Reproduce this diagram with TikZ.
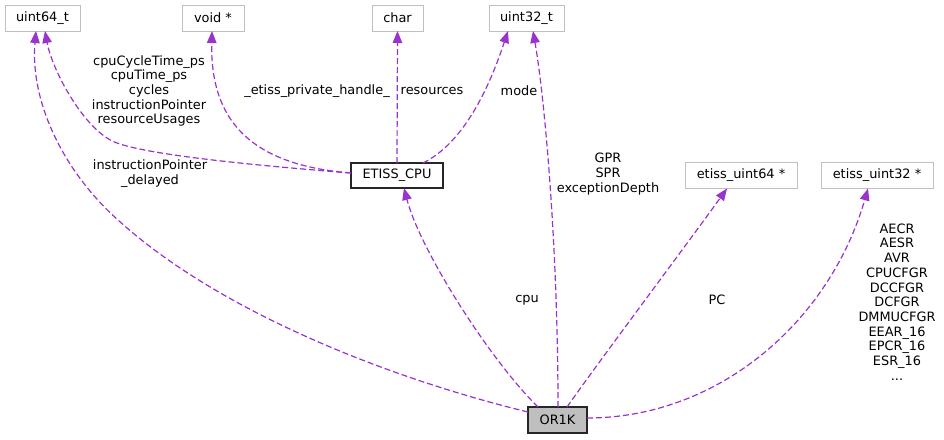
\documentclass[tikz,border=0pt]{standalone}
\usepackage{fontspec}
\setmainfont{DejaVu Sans}
\usetikzlibrary{arrows.meta}
\definecolor{edgecol}{HTML}{9A32CD}
\definecolor{boxgray}{HTML}{BFBFBF}
\begin{document}
\begin{tikzpicture}[x=1pt,y=-1pt,
  every node/.style={font=\fontsize{12.9}{14.7}\selectfont, inner sep=0pt, outer sep=0pt},
  typebox/.style={draw=boxgray, line width=1pt, fill=white, minimum height=26pt},
  mainbox/.style={draw=black!85, line width=1.2pt, fill=white, minimum height=25pt},
  focusbox/.style={draw=black!85, line width=1.2pt, fill=boxgray, minimum height=26pt},
  edge/.style={draw=edgecol, line width=1.2pt, dash pattern=on 6pt off 3pt,
    -{Triangle[length=12pt,width=9.5pt,fill=edgecol]}},
  lbl/.style={align=center}]
\useasboundingbox (0,0) rectangle (944,439);
% nodes
\node[typebox, minimum width=75pt] (u64) at (42.5,18) {uint64\_t};
\node[typebox, minimum width=62pt] (voidp) at (213,18) {void *};
\node[typebox, minimum width=51pt] (chr) at (397.5,18) {char};
\node[typebox, minimum width=75pt] (u32) at (526.5,18) {uint32\_t};
\node[mainbox, minimum width=92pt] (cpu) at (397,175.5) {ETISS\_CPU};
\node[typebox, minimum width=112pt] (eu64) at (741,175.5) {etiss\_uint64 *};
\node[typebox, minimum width=112pt] (eu32) at (877,175.5) {etiss\_uint32 *};
\node[focusbox, minimum width=59pt] (or1k) at (557.5,420) {OR1K};
% edges
\draw[edge] ([yshift=8pt]or1k.west) .. controls (388,378) and (218,311) .. (118,220)
  .. controls (62,170) and (30,100) .. ([xshift=-6.5pt]u64.south);
\draw[edge] ([yshift=2.5pt]cpu.west) .. controls (250,165) and (150,155) .. (117,143)
  .. controls (85,132) and (52,70) .. ([xshift=2.5pt]u64.south);
\draw[edge] ([yshift=2.5pt]cpu.west) .. controls (250,165) and (210,120) .. ([xshift=-1pt]voidp.south);
\draw[edge] (cpu.north) -- (chr.south);
\draw[edge] ([xshift=26pt]cpu.north) .. controls (470,140) and (495,70) .. ([xshift=-18.5pt]u32.south);
\draw[edge] ([xshift=0.5pt]or1k.north) .. controls (558,250) and (545,100) .. ([xshift=6.5pt]u32.south);
\draw[edge] ([xshift=-19.5pt]or1k.north) .. controls (490,360) and (420,250) .. ([xshift=7pt]cpu.south);
\draw[edge] ([xshift=9.5pt]or1k.north) .. controls (600,360) and (690,240) .. ([xshift=-14pt]eu64.south);
\draw[edge] ([yshift=2pt]or1k.east) .. controls (720,418) and (830,320) .. ([xshift=-9pt]eu32.south);
% labels
\node[lbl] (l1) at (149,91) {cpuCycleTime\_ps\\cpuTime\_ps\\cycles\\instructionPointer\\resourceUsages};
\node[lbl] (l2) at (150,173.5) {instructionPointer\\\_delayed};
\node[lbl] (l3) at (317,91) {\_etiss\_private\_handle\_};
\node[lbl] (l4) at (432,91) {resources};
\node[lbl] (l5) at (519,91) {mode};
\node[lbl] (l6) at (608,174) {GPR\\SPR\\exceptionDepth};
\node[lbl] (l7) at (527,300) {cpu};
\node[lbl] (l8) at (717,300) {PC};
\node[lbl] (l9) at (897,302) {AECR\\AESR\\AVR\\CPUCFGR\\DCCFGR\\DCFGR\\DMMUCFGR\\EEAR\_16\\EPCR\_16\\ESR\_16\\...};
\end{tikzpicture}
\end{document}
